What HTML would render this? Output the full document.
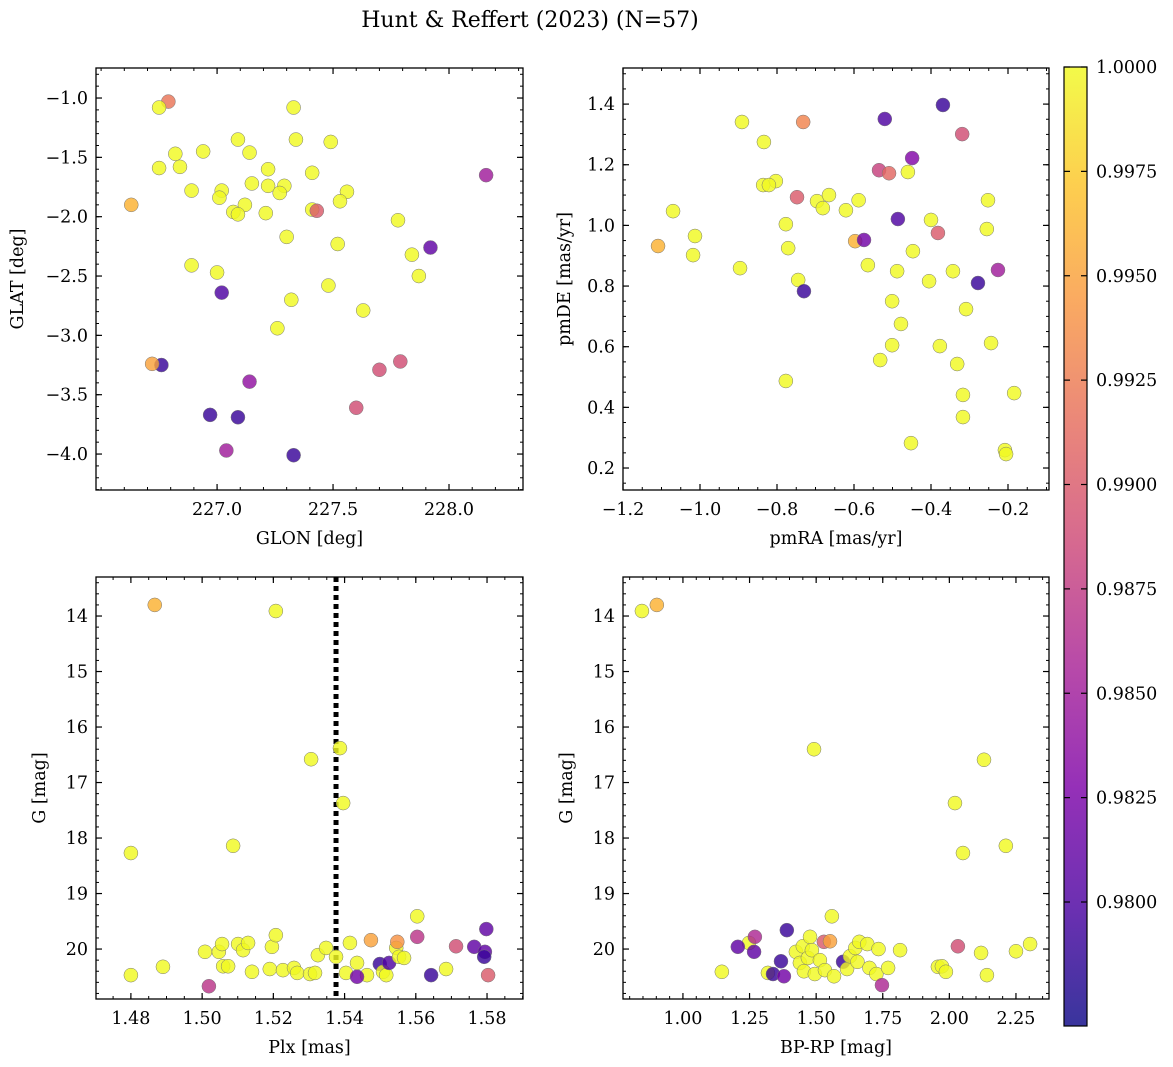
<!DOCTYPE html>
<html><head><meta charset="utf-8"><style>
body{margin:0;background:#fff;}
svg{display:block;font-family:"DejaVu Serif","Liberation Serif",serif;}
</style></head><body>
<svg id="fig" width="1173" height="1067" viewBox="0 0 1173 1067" xmlns="http://www.w3.org/2000/svg">
<rect width="1173" height="1067" fill="#fff"/>
<text x="530" y="27" text-anchor="middle" font-size="22">Hunt &amp; Reffert (2023) (N=57)</text>
<defs><linearGradient id="plasma" x1="0" y1="1" x2="0" y2="0">
<stop offset="0" stop-color="#0d0887"/><stop offset="0.125" stop-color="#4c02a1"/><stop offset="0.25" stop-color="#7e03a8"/><stop offset="0.375" stop-color="#a82296"/><stop offset="0.5" stop-color="#cc4778"/><stop offset="0.625" stop-color="#e56b5d"/><stop offset="0.75" stop-color="#f89540"/><stop offset="0.875" stop-color="#fdc328"/><stop offset="1" stop-color="#f0f921"/></linearGradient></defs>
</svg>
<script>
// Panel 1: GLON vs GLAT
const glon=[226.79,226.75,227.33,226.82,226.84,226.75,226.94,227.09,227.34,227.49,227.14,226.63,226.89,227.02,227.01,227.22,227.15,227.22,227.29,227.27,227.41,227.56,227.53,227.12,227.07,227.09,227.21,227.41,227.43,227.78,227.30,227.52,227.92,226.89,227.00,227.84,227.87,227.48,227.02,227.32,227.63,227.26,228.16,227.14,226.76,226.72,227.79,227.70,227.60,226.97,227.09,227.04,227.33];
const glat=[-1.03,-1.08,-1.08,-1.47,-1.58,-1.59,-1.45,-1.35,-1.35,-1.37,-1.46,-1.90,-1.78,-1.78,-1.84,-1.60,-1.72,-1.74,-1.74,-1.80,-1.63,-1.79,-1.87,-1.90,-1.96,-1.98,-1.97,-1.94,-1.95,-2.03,-2.17,-2.23,-2.26,-2.41,-2.47,-2.32,-2.50,-2.58,-2.64,-2.70,-2.79,-2.94,-1.65,-3.39,-3.25,-3.24,-3.22,-3.29,-3.61,-3.67,-3.69,-3.97,-4.01];
const prob1=[0.992,1,1,1,1,1,1,1,1,1,1,0.996,1,1,1,1,1,1,1,1,1,1,1,1,1,1,1,1,0.990,1,1,1,0.981,1,1,1,1,1,0.980,1,1,1,0.985,0.984,0.979,0.995,0.989,0.989,0.989,0.979,0.979,0.985,0.979];
// Panel 2: pmRA vs pmDE
const pmra=[-1.109,-1.070,-1.013,-1.018,-0.891,-0.896,-0.803,-0.834,-0.732,-0.836,-0.821,-0.748,-0.777,-0.771,-0.745,-0.730,-0.777,-0.696,-0.681,-0.665,-0.621,-0.588,-0.597,-0.574,-0.564,-0.535,-0.509,-0.520,-0.449,-0.460,-0.486,-0.488,-0.501,-0.478,-0.501,-0.532,-0.447,-0.369,-0.319,-0.400,-0.382,-0.405,-0.343,-0.309,-0.377,-0.332,-0.317,-0.317,-0.452,-0.278,-0.252,-0.255,-0.226,-0.244,-0.208,-0.205,-0.184];
const pmde=[0.932,1.047,0.965,0.902,1.341,0.859,1.146,1.275,1.341,1.133,1.133,1.093,1.004,0.925,0.820,0.783,0.487,1.080,1.057,1.100,1.050,1.083,0.948,0.952,0.869,1.182,1.172,1.351,1.222,1.176,1.021,0.849,0.750,0.675,0.605,0.556,0.915,1.397,1.301,1.018,0.975,0.816,0.849,0.724,0.602,0.543,0.441,0.368,0.282,0.810,1.083,0.988,0.853,0.612,0.259,0.246,0.447];
const prob2=[0.996,1,1,1,1,1,1,1,0.993,1,1,0.990,1,1,1,0.979,1,1,1,1,1,1,0.996,0.982,1,0.988,0.991,0.980,0.983,1,0.980,1,1,1,1,1,1,0.979,0.989,1,0.990,1,1,1,1,1,1,1,1,0.979,1,1,0.985,1,1,1,1];
// Panel 3: Plx vs G
const plx=[1.4867,1.5207,1.480,1.5087,1.5306,1.5387,1.5396,1.480,1.489,1.5008,1.5019,1.5047,1.5056,1.5059,1.5073,1.5101,1.5115,1.5129,1.5140,1.5190,1.5196,1.5207,1.5227,1.5258,1.5267,1.5303,1.5317,1.5325,1.5348,1.5376,1.5404,1.5415,1.5435,1.5463,1.5474,1.5499,1.5508,1.5517,1.5525,1.5545,1.5548,1.5553,1.5567,1.5435,1.5604,1.5604,1.5643,1.5685,1.5713,1.5764,1.5798,1.5794,1.5792,1.5803];
const g3=[13.80,13.91,18.27,18.14,16.58,16.38,17.37,20.47,20.32,20.05,20.67,20.05,19.91,20.31,20.31,19.91,20.02,19.89,20.41,20.36,19.96,19.75,20.38,20.34,20.43,20.45,20.43,20.11,19.98,20.14,20.43,19.89,20.25,20.47,19.84,20.27,20.41,20.47,20.25,19.98,19.87,20.14,20.16,20.50,19.41,19.78,20.47,20.36,19.95,19.96,19.64,20.05,20.14,20.47];
const prob3=[0.996,1,1,1,1,1,1,1,1,1,0.987,1,1,1,1,1,1,1,1,1,1,1,1,1,1,1,1,1,1,1,1,1,1,1,0.995,0.979,1,1,0.980,1,0.994,1,1,0.982,1,0.987,0.979,1,0.989,0.981,0.981,0.981,0.979,0.990];
// Panel 4: BP-RP vs G
const bprp=[0.846,0.902,1.492,2.021,2.130,2.051,2.212,1.146,1.248,1.267,1.270,1.319,1.338,1.368,1.379,1.390,1.206,1.424,1.439,1.450,1.454,1.469,1.477,1.484,1.495,1.514,1.529,1.533,1.552,1.559,1.567,1.601,1.616,1.627,1.647,1.655,1.662,1.692,1.700,1.726,1.734,1.747,1.770,1.815,1.957,1.972,1.987,2.032,2.119,2.141,2.250,2.303];
const g4=[13.91,13.80,16.40,17.37,16.59,18.27,18.14,20.41,19.89,20.05,19.78,20.43,20.45,20.22,20.49,19.66,19.96,20.05,20.25,19.95,20.40,20.16,19.78,20.02,20.45,20.20,19.87,20.38,19.86,19.41,20.49,20.23,20.36,20.13,19.98,20.23,19.87,19.91,20.34,20.45,20.00,20.65,20.34,20.02,20.32,20.31,20.41,19.95,20.07,20.47,20.04,19.91];
const prob4=[1,0.996,1,1,1,1,1,1,1,0.981,0.986,1,0.979,0.979,0.982,0.979,0.981,1,1,1,1,1,1,1,1,1,0.990,1,0.995,1,1,0.979,1,1,1,1,1,1,1,1,1,0.986,1,1,1,1,1,0.989,1,1,1,1];
const cbTicks=[0.9800,0.9825,0.9850,0.9875,0.9900,0.9925,0.9950,0.9975,1.0000];

const NS="http://www.w3.org/2000/svg";
const svg=document.getElementById('fig');
function mk(tag,attrs,parent){const e=document.createElementNS(NS,tag);for(const k in attrs)e.setAttribute(k,attrs[k]);(parent||svg).appendChild(e);return e;}
const stops=[[0,13,8,135],[0.125,76,2,161],[0.25,126,3,168],[0.375,168,34,150],[0.5,204,71,120],[0.625,229,107,93],[0.75,248,149,64],[0.875,253,195,40],[1,240,249,33]];
const CMIN=0.97703,CMAX=1.0;
function plasma(v){let t=(v-CMIN)/(CMAX-CMIN);t=Math.max(0,Math.min(1,t));for(let i=1;i<stops.length;i++){if(t<=stops[i][0]){const a=stops[i-1],b=stops[i],f=(t-a[0])/(b[0]-a[0]);return `rgb(${Math.round(a[1]+f*(b[1]-a[1]))},${Math.round(a[2]+f*(b[2]-a[2]))},${Math.round(a[3]+f*(b[3]-a[3]))})`;}}return 'rgb(240,249,33)';}
function fmt(v,d){return v.toFixed(d).replace('-','\u2212');}
const FS=17.5;
function panel(o){
  const {L,R,T,B,x0,x1,y0,y1,name}=o;
  const sx=v=>L+(v-x0)/(x1-x0)*(R-L), sy=v=>T+(v-y0)/(y1-y0)*(B-T);
  const g=mk('g',{});
  
  
  if(o.vline!==undefined){const l=mk('line',{x1:sx(o.vline),x2:sx(o.vline),y1:T,y2:B,stroke:'#000','stroke-width':5,'stroke-dasharray':'5,4'},g);
    }
  for(let i=0;i<o.xs.length;i++){
    const c=mk('circle',{cx:sx(o.xs[i]),cy:sy(o.ys[i]),r:7,fill:plasma(o.cs[i]),'fill-opacity':0.82,stroke:'#777','stroke-width':0.5},g);
    
    
  }
  const xmin=Math.min(x0,x1),xmax=Math.max(x0,x1),ymin=Math.min(y0,y1),ymax=Math.max(y0,y1);
  const eps=1e-9;
  for(let v=Math.ceil(xmin/o.xminor-eps)*o.xminor;v<=xmax+eps;v+=o.xminor){const x=sx(v);
    mk('line',{x1:x,x2:x,y1:B,y2:B-3,stroke:'#000','stroke-width':1},g);mk('line',{x1:x,x2:x,y1:T,y2:T+3,stroke:'#000','stroke-width':1},g);}
  for(let v=Math.ceil(ymin/o.yminor-eps)*o.yminor;v<=ymax+eps;v+=o.yminor){const y=sy(v);
    mk('line',{x1:L,x2:L+3,y1:y,y2:y,stroke:'#000','stroke-width':1},g);mk('line',{x1:R,x2:R-3,y1:y,y2:y,stroke:'#000','stroke-width':1},g);}
  o.xt.forEach(v=>{const x=sx(v);
    mk('line',{x1:x,x2:x,y1:B,y2:B-6,stroke:'#000','stroke-width':1.2},g);mk('line',{x1:x,x2:x,y1:T,y2:T+6,stroke:'#000','stroke-width':1.2},g);
    const t=mk('text',{x:x,y:B+25,'text-anchor':'middle','font-size':FS},g);t.textContent=fmt(v,o.xd);
    });
  o.yt.forEach(v=>{const y=sy(v);
    mk('line',{x1:L,x2:L+6,y1:y,y2:y,stroke:'#000','stroke-width':1.2},g);mk('line',{x1:R,x2:R-6,y1:y,y2:y,stroke:'#000','stroke-width':1.2},g);
    const t=mk('text',{x:L-8,y:y+6,'text-anchor':'end','font-size':FS},g);t.textContent=fmt(v,o.yd);
    });
  mk('rect',{x:L,y:T,width:R-L,height:B-T,fill:'none',stroke:'#000','stroke-width':1.3},g);
  const xl=mk('text',{x:(L+R)/2,y:B+54,'text-anchor':'middle','font-size':FS},g);xl.textContent=o.xlab;
  
  const yx=o.ylx, yc=(T+B)/2;
  const yl=mk('text',{x:yx,y:yc,'text-anchor':'middle','font-size':FS,transform:`rotate(-90 ${yx} ${yc})`},g);yl.textContent=o.ylab;
  
}
panel({name:'position',L:96,R:523,T:68,B:490,x0:226.478,x1:228.319,y0:-0.747,y1:-4.303,xs:glon,ys:glat,cs:prob1,
  xt:[227.0,227.5,228.0],xd:1,xminor:0.1,yt:[-1.0,-1.5,-2.0,-2.5,-3.0,-3.5,-4.0],yd:1,yminor:0.1,xlab:'GLON [deg]',ylab:'GLAT [deg]',ylx:23});
panel({name:'proper-motion',L:623,R:1049,T:68,B:490,x0:-1.2,x1:-0.0935,y0:1.519,y1:0.1275,xs:pmra,ys:pmde,cs:prob2,
  xt:[-1.2,-1.0,-0.8,-0.6,-0.4,-0.2],xd:1,xminor:0.05,yt:[0.2,0.4,0.6,0.8,1.0,1.2,1.4],yd:1,yminor:0.05,xlab:'pmRA [mas/yr]',ylab:'pmDE [mas/yr]',ylx:570});
panel({name:'parallax',L:96,R:523,T:577,B:999,x0:1.4702,x1:1.5901,y0:13.297,y1:20.90,xs:plx,ys:g3,cs:prob3,vline:1.5376,
  xt:[1.48,1.50,1.52,1.54,1.56,1.58],xd:2,xminor:0.005,yt:[14,15,16,17,18,19,20],yd:0,yminor:0.2,xlab:'Plx [mas]',ylab:'G [mag]',ylx:45});
panel({name:'cmd',L:623,R:1049,T:577,B:999,x0:0.775,x1:2.374,y0:13.297,y1:20.90,xs:bprp,ys:g4,cs:prob4,
  xt:[1.00,1.25,1.50,1.75,2.00,2.25],xd:2,xminor:0.05,yt:[14,15,16,17,18,19,20],yd:0,yminor:0.2,xlab:'BP-RP [mag]',ylab:'G [mag]',ylx:572});
// colorbar
(function(){
  const L=1064,R=1087,T=67,B=1026;
  const sy=v=>T+(CMAX-v)/(CMAX-CMIN)*(B-T);
  const g=mk('g',{});
  
  
  mk('rect',{x:L,y:T,width:R-L,height:B-T,fill:'url(#plasma)','fill-opacity':0.82},g);
  mk('rect',{x:L,y:T,width:R-L,height:B-T,fill:'none',stroke:'#000','stroke-width':1.2},g);
  cbTicks.forEach(v=>{const y=sy(v);
    mk('line',{x1:R,x2:R-6,y1:y,y2:y,stroke:'#000','stroke-width':1.2},g);mk('line',{x1:L,x2:L+6,y1:y,y2:y,stroke:'#000','stroke-width':1.2},g);
    const t=mk('text',{x:R+9,y:y+6,'font-size':FS},g);t.textContent=v.toFixed(4);
    });
})();
</script>
</body></html>
